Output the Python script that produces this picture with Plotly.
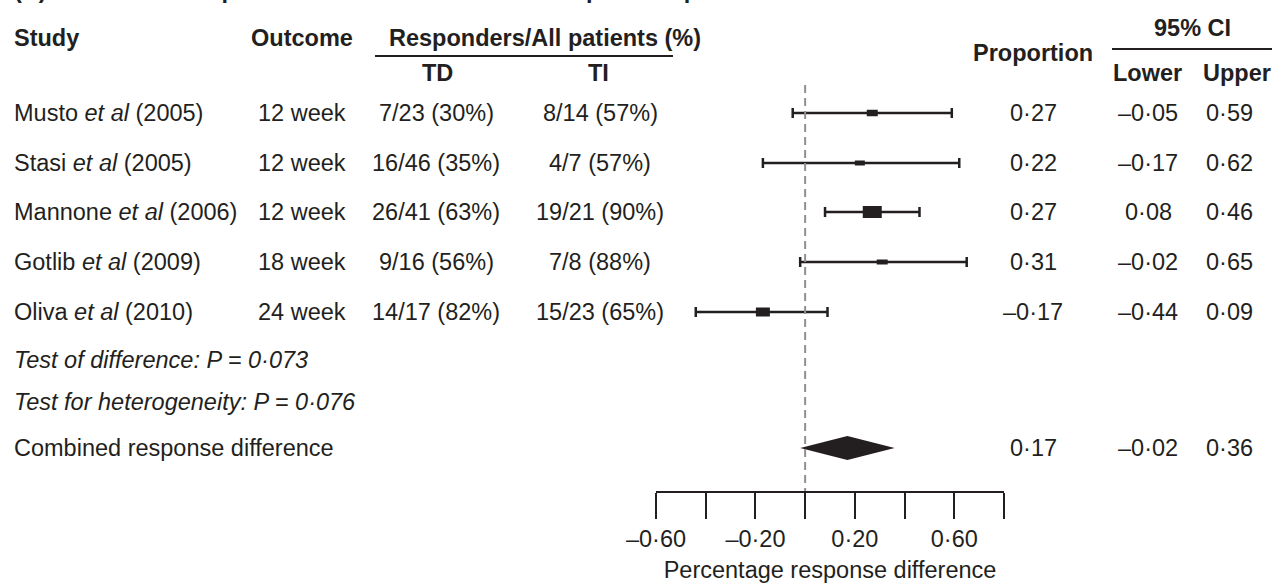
import plotly.graph_objects as go

W, H = 1272, 583

# ---------------- data ----------------
studies = ["Musto <i>et al</i> (2005)", "Stasi <i>et al</i> (2005)", "Mannone <i>et al</i> (2006)",
           "Gotlib <i>et al</i> (2009)", "Oliva <i>et al</i> (2010)"]
outcomes = ["12 week", "12 week", "12 week", "18 week", "24 week"]
td_resp = ["7/23 (30%)", "16/46 (35%)", "26/41 (63%)", "9/16 (56%)", "14/17 (82%)"]
ti_resp = ["8/14 (57%)", "4/7 (57%)", "19/21 (90%)", "7/8 (88%)", "15/23 (65%)"]
proportion = [0.27, 0.22, 0.27, 0.31, -0.17]
ci_lower = [-0.05, -0.17, 0.08, -0.02, -0.44]
ci_upper = [0.59, 0.62, 0.46, 0.65, 0.09]
comb_prop, comb_lower, comb_upper = 0.17, -0.02, 0.36
test_diff = "Test of difference: P = 0·073"
test_het = "Test for heterogeneity: P = 0·076"
tick_vals = [-0.6, -0.4, -0.2, 0.0, 0.2, 0.4, 0.6, 0.8]
tick_text = ["–0·60", "", "–0·20", "", "0·20", "", "0·60", ""]

# ---------------- styles / layout positions ----------------
INK = "#231f20"
FONT = "Liberation Sans, Arial, sans-serif"
FS = 23.5
row_y = [113, 163, 212, 262, 312]          # pixel rows
test_y = [360, 402]
comb_y = 448
box_w = [11, 10, 19, 11, 14]               # marker box sizes (px)
box_h = [6.5, 5, 12, 5, 9]
AX_Y = 491                                 # axis line pixel row


def fmt(v):
    s = f"{abs(v):.2f}".replace(".", "·")
    return ("–" if v < 0 else "") + s


def px(x):
    return x / W


def py(y):
    return 1 - y / H


fig = go.Figure()

# confidence intervals
fig.add_trace(go.Scatter(
    x=proportion, y=row_y, mode="markers",
    marker=dict(size=1, color=INK),
    error_x=dict(type="data", symmetric=False,
                 array=[u - p for u, p in zip(ci_upper, proportion)],
                 arrayminus=[p - l for p, l in zip(proportion, ci_lower)],
                 color=INK, thickness=2.5, width=5),
    hoverinfo="skip", showlegend=False))

# combined diamond
fig.add_trace(go.Scatter(
    x=[comb_lower, comb_prop, comb_upper, comb_prop, comb_lower],
    y=[comb_y, comb_y - 12, comb_y, comb_y + 12, comb_y],
    mode="lines", fill="toself", fillcolor=INK, line=dict(width=0, color=INK),
    hoverinfo="skip", showlegend=False))

shapes = []
# null line
shapes.append(dict(type="line", xref="x", yref="y", x0=0, x1=0, y0=85, y1=AX_Y,
                   line=dict(color="#8f8f8f", width=2, dash="8px,5px"), layer="above"))
# weight boxes
for p, y, w, h in zip(proportion, row_y, box_w, box_h):
    shapes.append(dict(type="rect", xref="x", yref="y",
                       xsizemode="pixel", xanchor=p, x0=-w / 2, x1=w / 2,
                       ysizemode="pixel", yanchor=y, y0=-h / 2, y1=h / 2,
                       fillcolor=INK, line=dict(width=0), layer="above"))
# header rules
shapes.append(dict(type="line", xref="paper", yref="paper", x0=px(375), x1=px(673),
                   y0=py(56), y1=py(56), line=dict(color=INK, width=2)))
shapes.append(dict(type="line", xref="paper", yref="paper", x0=px(1112), x1=px(1272),
                   y0=py(49), y1=py(49), line=dict(color=INK, width=2)))

ann = []


def text(x, y, t, anchor="center", bold=False, italic=False):
    if bold:
        t = f"<b>{t}</b>"
    if italic:
        t = f"<i>{t}</i>"
    ann.append(dict(xref="paper", yref="paper", x=px(x), y=py(y), text=t,
                    xanchor=anchor, yanchor="middle", showarrow=False,
                    font=dict(family=FONT, size=FS, color=INK)))


# cut-off panel title (only its lower edge shows, as in the reference)
text(12, -10, "(A) Transfusion-dependent versus transfusion-independent patients", "left", bold=True)
# headers
text(12, 38, "Study", "left", bold=True)
text(302, 38, "Outcome", bold=True)
text(387, 38, "Responders/All patients (%)", "left", bold=True)
text(437, 73, "TD", bold=True)
text(598, 73, "TI", bold=True)
text(1033, 53, "Proportion", bold=True)
text(1192, 28, "95% CI", bold=True)
text(1147, 73, "Lower", bold=True)
text(1237, 73, "Upper", bold=True)

for i, y in enumerate(row_y):
    text(12, y, studies[i], "left")
    text(302, y, outcomes[i])
    text(436, y, td_resp[i])
    text(600, y, ti_resp[i])
    text(1033, y, fmt(proportion[i]))
    text(1148, y, fmt(ci_lower[i]))
    text(1229, y, fmt(ci_upper[i]))

text(12, test_y[0], test_diff, "left", italic=True)
text(12, test_y[1], test_het, "left", italic=True)
text(12, comb_y, "Combined response difference", "left")
text(1033, comb_y, fmt(comb_prop))
text(1148, comb_y, fmt(comb_lower))
text(1229, comb_y, fmt(comb_upper))

fig.update_layout(
    width=W, height=H,
    margin=dict(l=0, r=0, t=0, b=0, autoexpand=False),
    paper_bgcolor="white", plot_bgcolor="white",
    shapes=shapes, annotations=ann,
    font=dict(family=FONT, size=FS, color=INK),
    xaxis=dict(domain=[px(656), px(1004)], range=[-0.6, 0.8],
               showgrid=False, zeroline=False, automargin=False,
               showline=True, linecolor=INK, linewidth=2.2,
               ticks="outside", ticklen=26, tickwidth=2.2, tickcolor=INK,
               tickvals=tick_vals, ticktext=tick_text,
               tickfont=dict(family=FONT, size=FS, color=INK),
               title=dict(text="Percentage response difference",
                          font=dict(family=FONT, size=FS, color=INK), standoff=13)),
    yaxis=dict(domain=[py(AX_Y), 1], range=[AX_Y, 0], visible=False, automargin=False),
)

fig.write_html("out.html")
